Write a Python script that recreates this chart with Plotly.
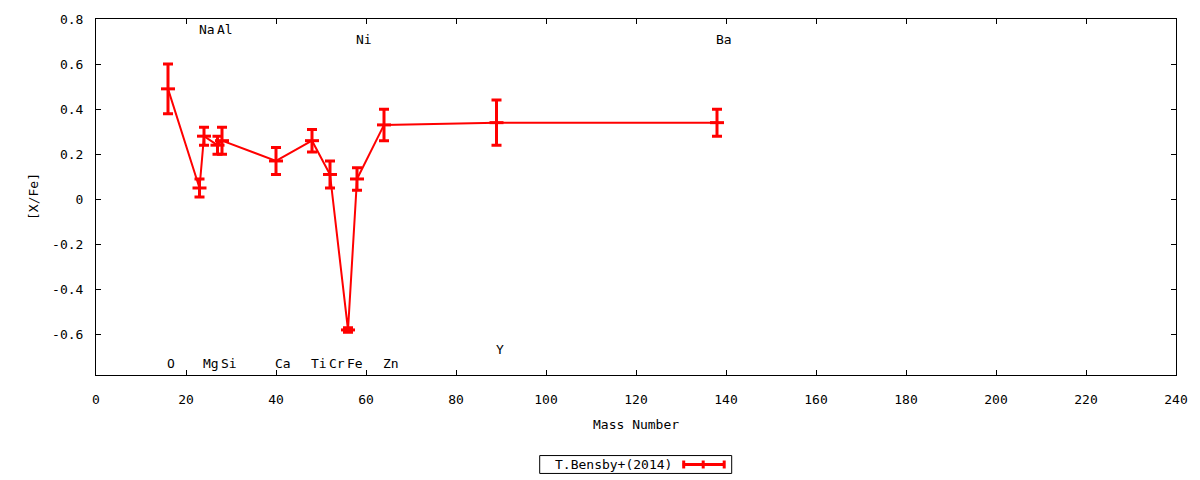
import plotly.graph_objects as go

# data
mass = [16, 23, 24, 27, 28, 40, 48, 52, 56, 58, 64, 89, 138]
xfe = [0.49, 0.05, 0.28, 0.24, 0.26, 0.17, 0.26, 0.11, -0.58, 0.09, 0.33, 0.34, 0.34]
err = [0.11, 0.04, 0.04, 0.04, 0.06, 0.06, 0.05, 0.06, 0.01, 0.05, 0.07, 0.10, 0.06]

label_names = ["O", "Na", "Mg", "Al", "Si", "Ca", "Ti", "Cr", "Fe", "Ni", "Zn", "Y", "Ba"]
label_x = [16, 23, 24, 27, 28, 40, 48, 52, 56, 58, 64, 89, 138]
label_y = [-0.728, 0.754, -0.728, 0.754, -0.728, -0.728, -0.728, -0.728, -0.728, 0.710, -0.728, -0.666, 0.710]

series_name = "T.Bensby+(2014)"
x_ticks = list(range(0, 241, 20))
y_ticks = [-0.6, -0.4, -0.2, 0, 0.2, 0.4, 0.6, 0.8]

FONT = "DejaVu Sans Mono"
FS = 13
RED = "#ff0000"

fig = go.Figure()
fig.add_trace(go.Scatter(
    x=mass, y=xfe, mode="lines+markers", name=series_name,
    line=dict(color=RED, width=2),
    marker=dict(symbol="line-ew", size=10, color=RED, line=dict(color=RED, width=3)),
    error_y=dict(type="data", array=err, visible=True, color=RED, thickness=3, width=5),
    showlegend=False,
))

annotations = []
for n, lx, ly in zip(label_names, label_x, label_y):
    annotations.append(dict(x=lx, y=ly, xref="x", yref="y", text=n, showarrow=False,
                            xanchor="left", yanchor="middle", xshift=-3,
                            font=dict(family=FONT, size=FS, color="black")))

# axis titles
annotations.append(dict(x=0.5, y=0, xref="paper", yref="paper", text="Mass Number",
                        showarrow=False, xanchor="center", yanchor="middle", yshift=-49,
                        font=dict(family=FONT, size=FS, color="black")))
annotations.append(dict(x=0, y=0.5, xref="paper", yref="paper", text="[X/Fe]",
                        showarrow=False, xanchor="center", yanchor="middle", xshift=-63,
                        textangle=-90, font=dict(family=FONT, size=FS, color="black")))

# legend (text left, sample right, gnuplot style)
PW, PH = 1080.0, 358.0
L0, B0 = 96.3, 375.0
def px(v):
    return (v - L0) / PW
def py(v):
    return (B0 - v) / PH

annotations.append(dict(x=px(614), y=py(465), xref="paper", yref="paper", text=series_name,
                        showarrow=False, xanchor="center", yanchor="middle",
                        font=dict(family=FONT, size=FS, color="black")))
shapes = [
    dict(type="rect", xref="paper", yref="paper", x0=px(540), x1=px(732), y0=py(474), y1=py(456),
         line=dict(color="black", width=1), fillcolor="rgba(0,0,0,0)"),
    dict(type="line", xref="paper", yref="paper", x0=px(683), x1=px(725), y0=py(465), y1=py(465),
         line=dict(color=RED, width=3)),
    dict(type="line", xref="paper", yref="paper", x0=px(684), x1=px(684), y0=py(461), y1=py(469),
         line=dict(color=RED, width=3)),
    dict(type="line", xref="paper", yref="paper", x0=px(724.5), x1=px(724.5), y0=py(461), y1=py(469),
         line=dict(color=RED, width=3)),
    dict(type="line", xref="paper", yref="paper", x0=px(703.5), x1=px(703.5), y0=py(461), y1=py(469),
         line=dict(color=RED, width=3)),
]

axis_common = dict(showline=True, linecolor="black", linewidth=1, mirror="ticks",
                   ticks="inside", ticklen=5, tickcolor="black", tickwidth=1,
                   showgrid=False, zeroline=False,
                   tickfont=dict(family=FONT, size=FS, color="black"))

fig.update_layout(
    width=1200, height=480,
    margin=dict(l=96, r=24, t=17, b=105, pad=0),
    paper_bgcolor="white", plot_bgcolor="white",
    xaxis=dict(range=[0, 240], tickvals=x_ticks, ticktext=[str(v) for v in x_ticks],
               ticklabelstandoff=12, **axis_common),
    yaxis=dict(range=[-0.78, 0.8], tickvals=y_ticks, ticktext=[("%g" % v) for v in y_ticks],
               ticklabelstandoff=9, **axis_common),
    annotations=annotations,
    shapes=shapes,
    showlegend=False,
)

fig.write_html("out.html", config={"displayModeBar": False},
               post_script="document.body.style.margin='0';document.body.style.overflow='hidden';")
